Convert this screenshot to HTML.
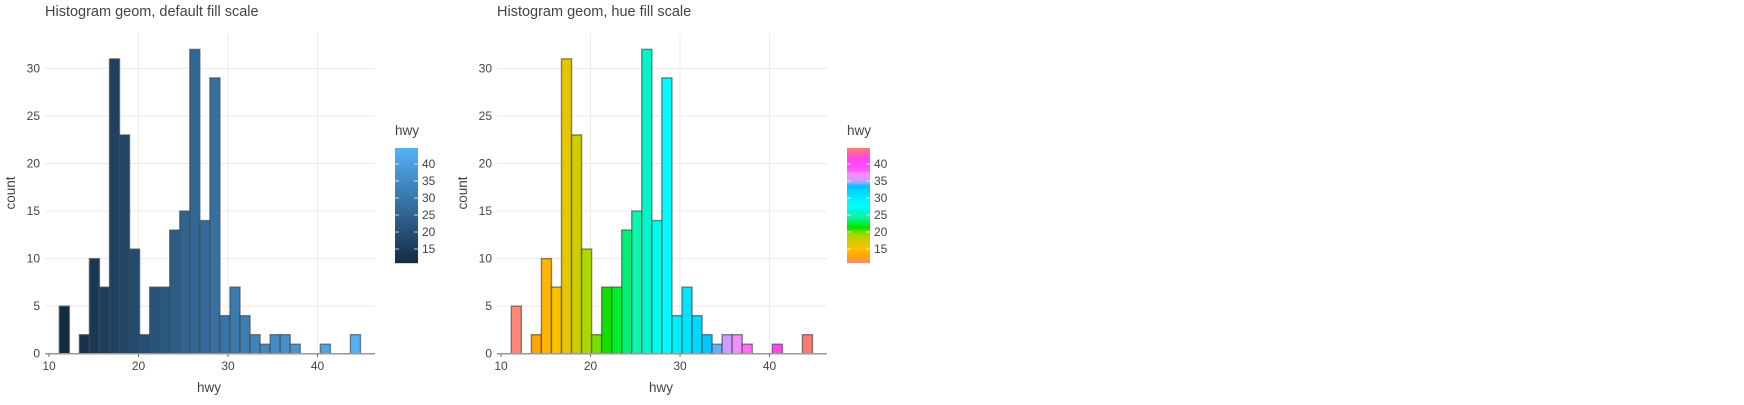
<!DOCTYPE html>
<html><head><meta charset="utf-8"><style>
body{margin:0;background:#fff;width:1744px;height:400px;overflow:hidden;font-family:"Liberation Sans",Arial,sans-serif}
svg text{font-family:"Liberation Sans",Arial,sans-serif;fill:#444}
</style></head><body>
<svg id="c" width="1744" height="400"></svg>
<script>
const bins = [0,1,2,3,4,5,6,7,8,9,10,11,12,13,14,15,16,17,18,19,20,21,22,23,24,25,26,27,28,29];
const counts = [5,0,2,10,7,31,23,11,2,7,7,13,15,32,14,29,4,7,4,2,1,2,2,1,0,0,1,0,0,2];
const xTicks = [10,20,30,40];
const yTicks = [0,5,10,15,20,25,30];
const legendTicks = [15,20,25,30,35,40];
const binStart = 11.15, binWidth = 1.1217;
const hueStops = [[12,'#ff8878'],[14,'#ffa500'],[16,'#ffc000'],[17.5,'#e0c800'],[19,'#c4d000'],[20,'#99dd00'],[21,'#66dd00'],[22,'#00e000'],[23,'#00ee30'],[24,'#00f070'],[25,'#10f5a8'],[26.5,'#00f5d0'],[28,'#00ffff'],[30,'#00ecff'],[32,'#00d8ff'],[33.5,'#00c0ff'],[34.5,'#99aaff'],[35.5,'#dd99ff'],[37,'#ff88ff'],[38,'#ff55ff'],[41,'#ff44ee'],[44,'#ff7b70']];
const NS='http://www.w3.org/2000/svg', svg=document.getElementById('c');
function mk(t,a,p){const e=document.createElementNS(NS,t);for(const k in a)e.setAttribute(k,a[k]);(p||svg).appendChild(e);return e;}
function hex2(h){return [1,3,5].map(i=>parseInt(h.substr(i,2),16));}
function lerpC(a,b,t){const A=hex2(a),B=hex2(b);return 'rgb('+A.map((v,i)=>Math.round(v+(B[i]-v)*t)).join(',')+')';}
function blue(v){return lerpC('#132b43','#56b1f7',Math.max(0,Math.min(1,(v-12)/32)));}
function hue(v){if(v<=hueStops[0][0])return hueStops[0][1];for(let i=1;i<hueStops.length;i++){if(v<=hueStops[i][0]){const a=hueStops[i-1],b=hueStops[i];return lerpC(a[1],b[1],(v-a[0])/(b[0]-a[0]));}}return hueStops[hueStops.length-1][1];}
function chart(ox,title,colorFn,name){
  const g=mk('g',{});
  
  
  const X=v=>ox+49+(v-10)*8.95, Y=v=>353.7-v*9.51;
  const L=ox+45,R=ox+375,T=34,B=353.7;
  yTicks.forEach(t=>{if(t>0){const l=mk('line',{x1:L,x2:R,y1:Y(t),y2:Y(t),stroke:'#ebebeb','stroke-width':1},g);}
    const tx=mk('text',{x:ox+40,y:Y(t)+4,'text-anchor':'end','font-size':12},g);tx.textContent=t;});
  xTicks.forEach(t=>{if(t>10){const l=mk('line',{x1:X(t),x2:X(t),y1:T,y2:B,stroke:'#ebebeb','stroke-width':1},g);}
    const tx=mk('text',{x:X(t),y:370,'text-anchor':'middle','font-size':12},g);tx.textContent=t;
    mk('line',{x1:X(t),x2:X(t),y1:B,y2:B+3,stroke:'#555'},g);});
  bins.forEach((b,i)=>{const x0=binStart+b*binWidth,c=counts[i];if(c<=0)return;
    const r=mk('rect',{x:X(x0),y:Y(c),width:X(x0+binWidth)-X(x0),height:B-Y(c),fill:colorFn(x0+binWidth/2),stroke:'rgba(70,70,70,0.65)','stroke-width':1.4},g);
    });
  const ax=mk('line',{x1:L,x2:R,y1:B,y2:B,stroke:'#999','stroke-width':1.5},g);
  const tt=mk('text',{x:ox+45,y:16,'font-size':14.5},g);tt.textContent=title;
  const xt=mk('text',{x:ox+209,y:392,'text-anchor':'middle','font-size':13.5},g);xt.textContent='hwy';
  const yt=mk('text',{x:0,y:0,'text-anchor':'middle','font-size':13.5,transform:'translate('+(ox+15)+',193) rotate(-90)'},g);yt.textContent='count';
  const lx=ox+395,ly0=148,ly1=263,LY=v=>249-(v-15)*3.4;
  const lg=mk('g',{},g);
  const lt=mk('text',{x:lx,y:135,'font-size':13.5},lg);lt.textContent='hwy';
  for(let y=ly0;y<ly1;y+=1){const v=44-(y-ly0)/(ly1-ly0)*32;mk('rect',{x:lx,y:y,width:23,height:1.2,fill:colorFn(v)},lg);}
  legendTicks.forEach(t=>{mk('line',{x1:lx,x2:lx+4,y1:LY(t),y2:LY(t),stroke:'rgba(255,255,255,0.7)'},lg);mk('line',{x1:lx+19,x2:lx+23,y1:LY(t),y2:LY(t),stroke:'rgba(255,255,255,0.7)'},lg);
    const e=mk('text',{x:lx+27,y:LY(t)+4,'font-size':12},lg);e.textContent=t;});
}
chart(0,'Histogram geom, default fill scale',blue,'default-fill-histogram');
chart(452,'Histogram geom, hue fill scale',hue,'hue-fill-histogram');
</script>
</body></html>
